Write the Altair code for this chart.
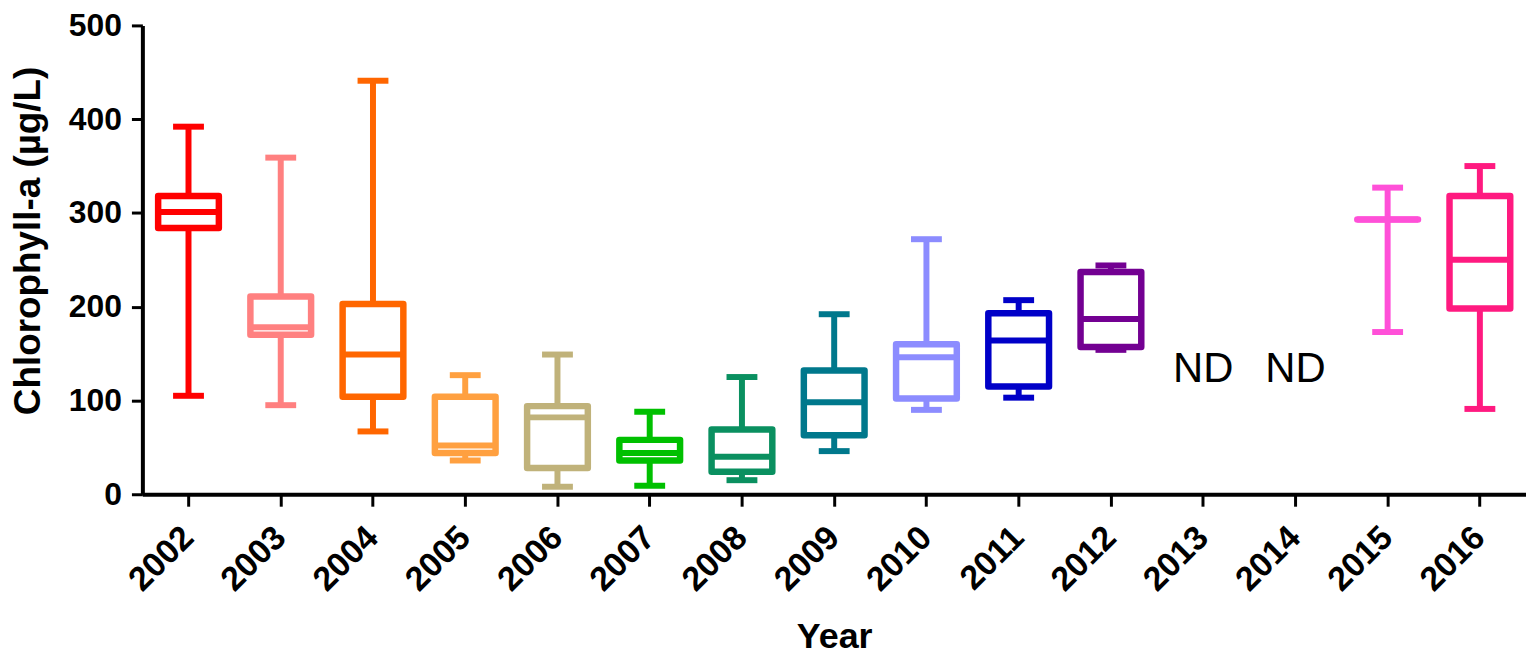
import altair as alt
import pandas as pd

years = [str(y) for y in range(2002, 2017)]
box_years = ["2002", "2003", "2004", "2005", "2006", "2007", "2008", "2009",
             "2010", "2011", "2012", "2015", "2016"]
mins =    [105, 95, 67, 36, 8, 9, 15, 46, 90, 103, 154, 173, 91]
q1s =     [284, 170, 104, 44, 28, 36, 24, 63, 102, 115, 157, 293, 198]
medians = [301, 178, 149, 52, 82, 44, 40, 98, 146, 164, 187, 293, 250]
q3s =     [318, 211, 203, 104, 94, 58, 69, 132, 160, 193, 237, 293, 318]
maxs =    [392, 359, 441, 127, 149, 88, 125, 192, 272, 207, 244, 327, 350]
colors =  ["#FF0000", "#FF8080", "#FF6600", "#FFA040", "#C0B27A", "#00C000",
           "#0A9060", "#00788C", "#8C8CFF", "#0000C8", "#730092", "#FF50D8",
           "#FF1A80"]
nd_years = ["2013", "2014"]
nd_labels = ["ND", "ND"]
nd_y = [133, 133]

df = pd.DataFrame({"year": box_years, "min": mins, "q1": q1s, "median": medians,
                   "q3": q3s, "max": maxs})
nd_df = pd.DataFrame({"year": nd_years, "label": nd_labels, "y": nd_y})

FONT = "Liberation Sans"
xscale = alt.Scale(domain=years, paddingInner=0, paddingOuter=0)
yscale = alt.Scale(domain=[0, 500])
cscale = alt.Scale(domain=box_years, range=colors)

x = alt.X("year:N", scale=xscale, sort=years,
          axis=alt.Axis(title="Year", labelAngle=-45, labelFontSize=34,
                        labelFontWeight="bold", labelFont=FONT, labelBaseline="middle",
                        labelAlign="right",
                        titleFontSize=36, titleFont=FONT, titleFontWeight="bold",
                        titlePadding=22, domainWidth=4, domainColor="black",
                        tickWidth=3, tickSize=12, tickColor="black",
                        labelColor="black", titleColor="black", labelPadding=26))

base = alt.Chart(df)

whisker = base.mark_rule(strokeWidth=6, opacity=1).encode(
    x=x,
    y=alt.Y("min:Q", scale=yscale,
            axis=alt.Axis(title="Chlorophyll-a (µg/L)", values=[0, 100, 200, 300, 400, 500],
                          labelFontSize=32, labelFontWeight="bold", labelFont=FONT,
                          titleFontSize=37, titleFont=FONT, titleFontWeight="bold",
                          titlePadding=21, grid=False, domainWidth=4, domainColor="black",
                          tickWidth=3, tickSize=11, tickColor="black", titleY=216,
                          labelColor="black", titleColor="black", labelPadding=10)),
    y2="max:Q",
    color=alt.Color("year:N", scale=cscale, legend=None),
)

box = base.mark_bar(fill="white", strokeWidth=6.5, size=61, strokeJoin="round",
                    opacity=1).encode(
    x=x,
    y=alt.Y("q1:Q", scale=yscale),
    y2="q3:Q",
    stroke=alt.Stroke("year:N", scale=cscale, legend=None),
)

median = base.mark_tick(size=61, thickness=6, orient="horizontal", opacity=1).encode(
    x=x,
    y=alt.Y("median:Q", scale=yscale),
    color=alt.Color("year:N", scale=cscale, legend=None),
)

cap_lo = base.mark_tick(size=31, thickness=6, orient="horizontal", opacity=1).encode(
    x=x,
    y=alt.Y("min:Q", scale=yscale),
    color=alt.Color("year:N", scale=cscale, legend=None),
)

cap_hi = base.mark_tick(size=31, thickness=6, orient="horizontal", opacity=1).encode(
    x=x,
    y=alt.Y("max:Q", scale=yscale),
    color=alt.Color("year:N", scale=cscale, legend=None),
)

nd = alt.Chart(nd_df).mark_text(fontSize=42, font=FONT, color="black").encode(
    x=x,
    y=alt.Y("y:Q", scale=yscale),
    text="label:N",
)

chart = alt.layer(whisker, box, median, cap_lo, cap_hi, nd).properties(
    width=1390, height=471, background="white",
    padding={"left": 1, "top": 0, "right": 0, "bottom": 0},
).configure_view(stroke=None).configure_axis(grid=False)

chart.save("out.html", embed_options={"renderer": "svg", "actions": False})
